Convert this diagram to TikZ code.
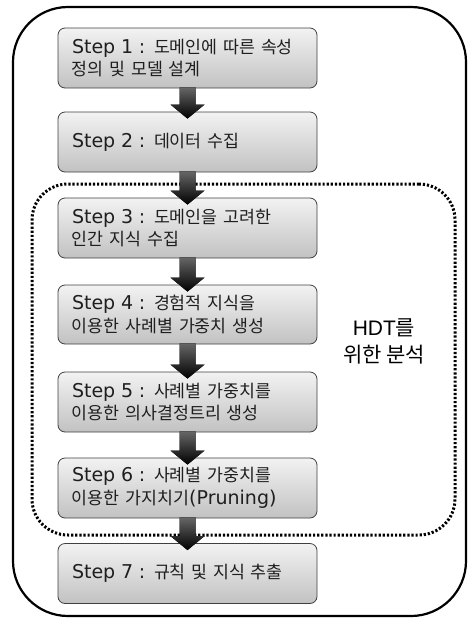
\documentclass[tikz,border=0pt]{standalone}
\usepackage{fontspec}
\setmainfont{Noto Sans CJK KR}
\newfontfamily\lat{DejaVu Sans}[Scale=1.1]
\newfontfamily\arl{Liberation Sans}
\usetikzlibrary{calc}
\tikzset{
  stepbox/.style={draw=black!75, line width=0.8pt, rounded corners=7pt,
    top color=white!95!black, bottom color=black!24,
    minimum width=259pt, minimum height=60pt, text width=250pt,
    align=left, inner sep=0pt, font=\fontsize{17.3}{22.5}\selectfont, text=black!88,
    execute at begin node={\leftskip=9.5pt\relax}},
  frame/.style={draw=black, line width=2.2pt, rounded corners=55pt, inner sep=0pt},
  hdtframe/.style={draw=black, line width=3pt, dash pattern=on 2.2pt off 1.9pt,
    rounded corners=36pt, inner sep=0pt},
  arrowfill/.style={top color=black!60, bottom color=black},
  lbl/.style={align=center, font=\fontsize{21}{27}\selectfont, inner sep=0pt}
}
\newcommand{\blockarrow}[2]{%
  \fill[arrowfill] let \p1=(#1.south), \p2=(#2.north) in
    (\x1-8pt,\y1+1pt) -- (\x1-8pt,\y2+7pt) -- (\x1-17pt,\y2+7pt) -- (\x1,\y2-7pt)
    -- (\x1+17pt,\y2+7pt) -- (\x1+8pt,\y2+7pt) -- (\x1+8pt,\y1+1pt) -- cycle;}
\begin{document}
\begin{tikzpicture}[x=1pt,y=-1pt]
\useasboundingbox (0,0) rectangle (469,619);
\node[frame, minimum width=453pt, minimum height=609pt] (outer) at (239.5,311.5) {};
\node[hdtframe, minimum width=423pt, minimum height=351pt] (hdt) at (243.5,359.5) {};
\node[stepbox] (s1) at (187.5,58) {{\lat Step 1 :} 도메인에 따른 속성\\정의 및 모델 설계};
\node[stepbox] (s2) at (187.5,142) {{\lat Step 2 :} 데이터 수집};
\node[stepbox] (s3) at (187.5,228) {{\lat Step 3 :} 도메인을 고려한\\인간 지식 수집};
\node[stepbox, minimum height=59pt] (s4) at (187.5,314.5) {{\lat Step 4 :} 경험적 지식을\\이용한 사례별 가중치 생성};
\node[stepbox] (s5) at (187.5,402) {{\lat Step 5 :} 사례별 가중치를\\이용한 의사결정트리 생성};
\node[stepbox] (s6) at (187.5,488) {{\lat Step 6 :} 사례별 가중치를\\이용한 가지치기{\lat (Pruning)}};
\node[stepbox] (s7) at (187.5,573.5) {{\lat Step 7 :} 규칙 및 지식 추출};
\blockarrow{s1}{s2}
\blockarrow{s2}{s3}
\blockarrow{s3}{s4}
\blockarrow{s4}{s5}
\blockarrow{s5}{s6}
\blockarrow{s6}{s7}
\node[lbl] (lab) at (384,341) {{\arl HDT}를\\위한 분석};
\end{tikzpicture}
\end{document}
